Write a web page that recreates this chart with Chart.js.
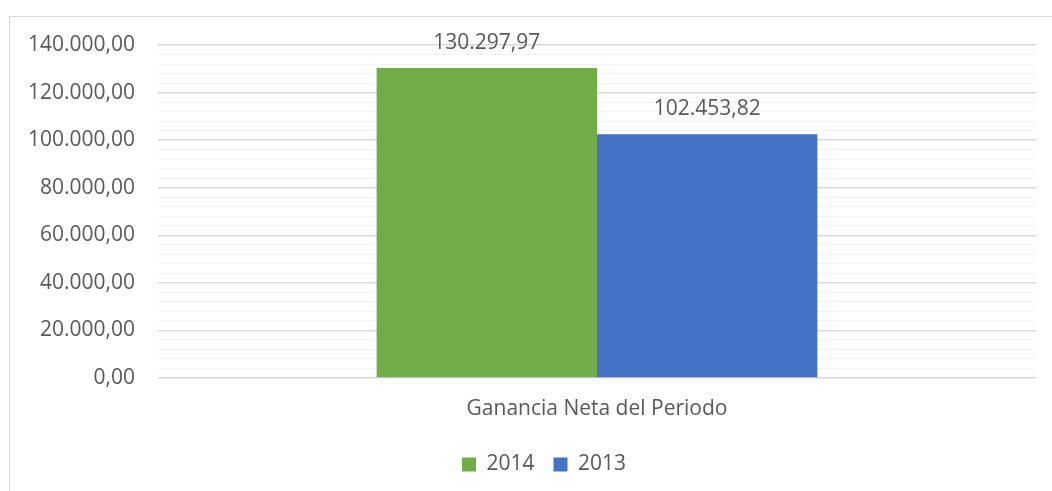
<!DOCTYPE html>
<html>
<head>
<meta charset="utf-8">
<script src="https://cdn.jsdelivr.net/npm/chart.js@4.4.1/dist/chart.umd.min.js"></script>
<style>
  html, body { margin: 0; padding: 0; background: #ffffff; overflow: hidden; }
  #wrap { position: relative; width: 1052px; height: 491px; }
  #frame { position: absolute; left: 9px; top: 16px; width: 1200px; height: 700px; border: 1px solid #d9d9d9; box-sizing: border-box; }
  canvas { position: absolute; left: 0; top: 0; }
</style>
</head>
<body>
<div id="wrap">
  <div id="frame"></div>
  <canvas id="c" width="1052" height="491"></canvas>
</div>
<script>
const categories = ['Ganancia Neta del Periodo'];
const seriesNames = ['2014', '2013'];
const values2014 = [130297.97];
const values2013 = [102453.82];
const yTicksMajor = [0, 20000, 40000, 60000, 80000, 100000, 120000, 140000];

const FONT = "'Open Sans', 'Noto Sans', sans-serif";
const TEXT = '#595959';

function fmt(v) {
  const neg = v < 0;
  v = Math.abs(v);
  const parts = v.toFixed(2).split('.');
  const intPart = parts[0].replace(/\B(?=(\d{3})+(?!\d))/g, '.');
  return (neg ? '-' : '') + intPart + ',' + parts[1];
}

const labelPlugin = {
  id: 'barLabels',
  afterDatasetsDraw(chart) {
    const ctx = chart.ctx;
    ctx.save();
    ctx.font = '21px ' + FONT;
    ctx.fillStyle = TEXT;
    ctx.textAlign = 'center';
    ctx.textBaseline = 'middle';
    chart.data.datasets.forEach((ds, i) => {
      const meta = chart.getDatasetMeta(i);
      meta.data.forEach((el, j) => {
        ctx.fillText(fmt(ds.data[j]), el.x, el.y - 25);
      });
    });
    ctx.restore();
  }
};

// shift the legend slightly to the right, as in the original (centred under the plot)
const legendShift = {
  id: 'legendShift',
  afterLayout(chart) {
    if (chart.legend) { chart.legend.left += 26; chart.legend.right += 26; }
  }
};

new Chart(document.getElementById('c'), {
  type: 'bar',
  data: {
    labels: categories,
    datasets: [
      { label: seriesNames[0], data: values2014, backgroundColor: '#70AD47', borderWidth: 0 },
      { label: seriesNames[1], data: values2013, backgroundColor: '#4472C4', borderWidth: 0 }
    ]
  },
  options: {
    responsive: false,
    devicePixelRatio: 1,
    animation: false,
    events: [],
    categoryPercentage: 0.502,
    barPercentage: 1.0,
    layout: { padding: { top: 45, right: 16, left: 0, bottom: 6 } },
    plugins: {
      tooltip: { enabled: false },
      legend: {
        position: 'bottom',
        labels: {
          boxWidth: 14,
          boxHeight: 14,
          padding: 19,
          color: TEXT,
          font: { family: FONT, size: 21 }
        }
      }
    },
    scales: {
      x: {
        grid: { display: false, drawTicks: false },
        border: { display: false },
        ticks: { color: TEXT, padding: 18, font: { family: FONT, size: 21 } },
        afterFit(scale) { scale.height = 57; }
      },
      y: {
        min: 0,
        max: 140000,
        border: { display: false },
        grid: {
          drawTicks: false,
          color(ctx) { return (ctx.tick && yTicksMajor.includes(ctx.tick.value)) ? '#d9d9d9' : '#f2f2f2'; },
          lineWidth(ctx) { return (ctx.tick && yTicksMajor.includes(ctx.tick.value)) ? 1.5 : 1; }
        },
        ticks: {
          stepSize: 4000,
          autoSkip: false,
          padding: 23,
          color: TEXT,
          font: { family: FONT, size: 21 },
          callback(v) { return yTicksMajor.includes(v) ? fmt(v) : ''; }
        },
        afterFit(scale) { scale.width = 158; }
      }
    }
  },
  plugins: [labelPlugin, legendShift]
});
</script>
</body>
</html>
